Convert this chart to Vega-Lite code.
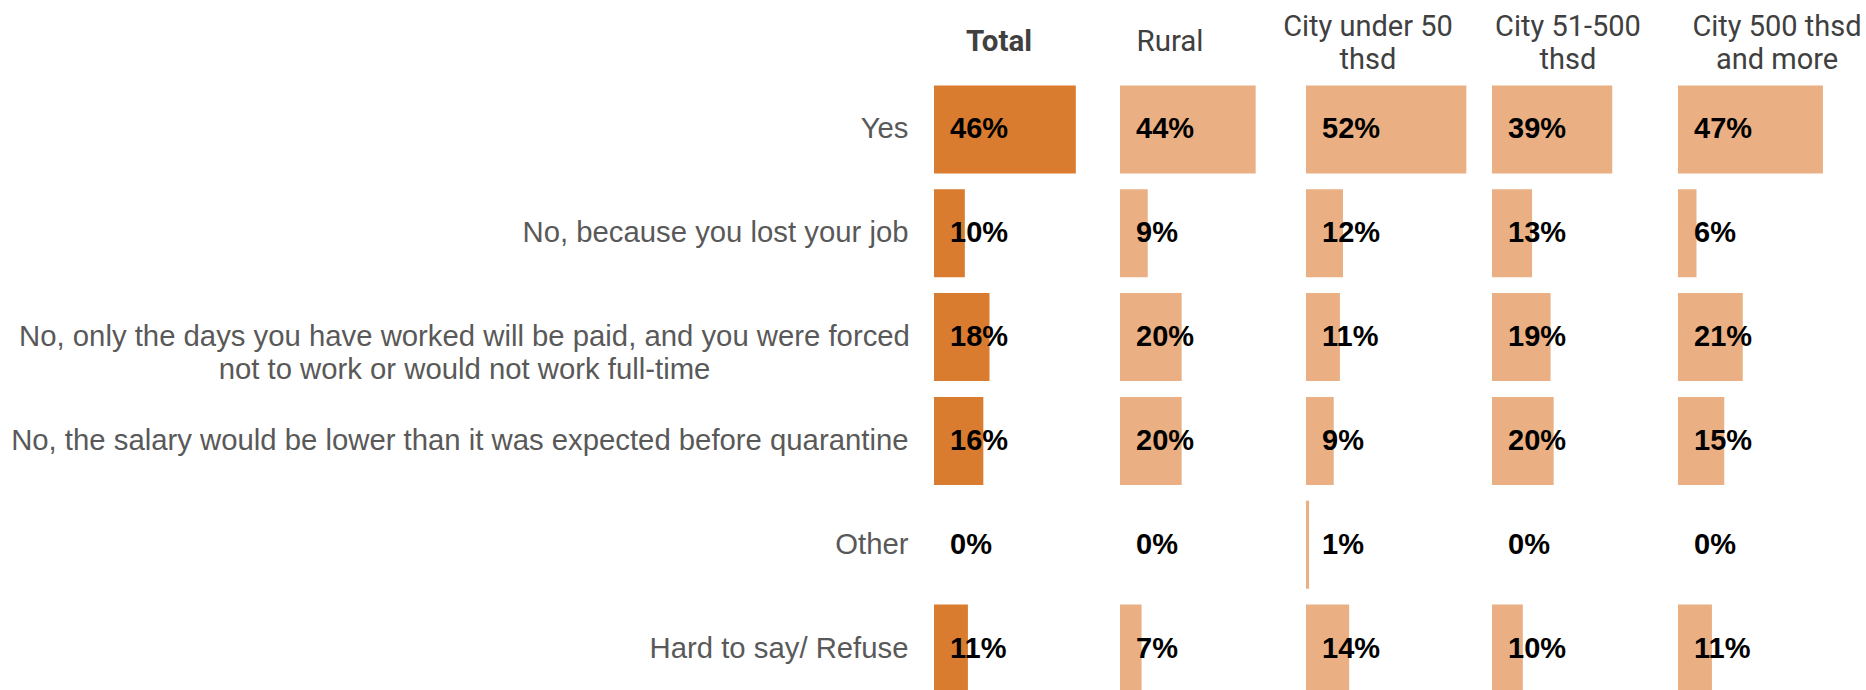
{
  "$schema": "https://vega.github.io/schema/vega-lite/v6.json",
  "padding": {"left": 10, "top": 12.5, "right": 0, "bottom": 0},
  "background": "white",
  "bounds": "flush",
  "config": {"view": {"stroke": null}, "concat": {"spacing": 1}},
  "datasets": {
    "d": [
      {"group": "Total", "answer": "Yes", "value": 0.46},
      {"group": "Total", "answer": "No, because you lost your job", "value": 0.10},
      {"group": "Total", "answer": "No, only the days you have worked will be paid, and you were forced not to work or would not work full-time", "value": 0.18},
      {"group": "Total", "answer": "No, the salary would be lower than it was expected before quarantine", "value": 0.16},
      {"group": "Total", "answer": "Other", "value": 0.0},
      {"group": "Total", "answer": "Hard to say/ Refuse", "value": 0.11},
      {"group": "Rural", "answer": "Yes", "value": 0.44},
      {"group": "Rural", "answer": "No, because you lost your job", "value": 0.09},
      {"group": "Rural", "answer": "No, only the days you have worked will be paid, and you were forced not to work or would not work full-time", "value": 0.20},
      {"group": "Rural", "answer": "No, the salary would be lower than it was expected before quarantine", "value": 0.20},
      {"group": "Rural", "answer": "Other", "value": 0.0},
      {"group": "Rural", "answer": "Hard to say/ Refuse", "value": 0.07},
      {"group": "City under 50 thsd", "answer": "Yes", "value": 0.52},
      {"group": "City under 50 thsd", "answer": "No, because you lost your job", "value": 0.12},
      {"group": "City under 50 thsd", "answer": "No, only the days you have worked will be paid, and you were forced not to work or would not work full-time", "value": 0.11},
      {"group": "City under 50 thsd", "answer": "No, the salary would be lower than it was expected before quarantine", "value": 0.09},
      {"group": "City under 50 thsd", "answer": "Other", "value": 0.01},
      {"group": "City under 50 thsd", "answer": "Hard to say/ Refuse", "value": 0.14},
      {"group": "City 51-500 thsd", "answer": "Yes", "value": 0.39},
      {"group": "City 51-500 thsd", "answer": "No, because you lost your job", "value": 0.13},
      {"group": "City 51-500 thsd", "answer": "No, only the days you have worked will be paid, and you were forced not to work or would not work full-time", "value": 0.19},
      {"group": "City 51-500 thsd", "answer": "No, the salary would be lower than it was expected before quarantine", "value": 0.20},
      {"group": "City 51-500 thsd", "answer": "Other", "value": 0.0},
      {"group": "City 51-500 thsd", "answer": "Hard to say/ Refuse", "value": 0.10},
      {"group": "City 500 thsd and more", "answer": "Yes", "value": 0.47},
      {"group": "City 500 thsd and more", "answer": "No, because you lost your job", "value": 0.06},
      {"group": "City 500 thsd and more", "answer": "No, only the days you have worked will be paid, and you were forced not to work or would not work full-time", "value": 0.21},
      {"group": "City 500 thsd and more", "answer": "No, the salary would be lower than it was expected before quarantine", "value": 0.15},
      {"group": "City 500 thsd and more", "answer": "Other", "value": 0.0},
      {"group": "City 500 thsd and more", "answer": "Hard to say/ Refuse", "value": 0.11}
    ]
  },
  "hconcat": [
    {
      "width": 185, "height": 623,
      "data": {"name": "d"},
      "transform": [{"filter": "datum.group == 'Total'"}],
      "title": {"text": "Total", "anchor": "start", "align": "center", "dx": 65, "font": "Roboto", "fontSize": 29.5, "fontWeight": "bold", "color": "#404040", "baseline": "middle", "offset": 6, "frame": "group", "lineHeight": 33},
      "encoding": {
        "y": {"field": "answer", "type": "nominal", "title": null,
          "sort": ["Yes", "No, because you lost your job", "No, only the days you have worked will be paid, and you were forced not to work or would not work full-time", "No, the salary would be lower than it was expected before quarantine", "Other", "Hard to say/ Refuse"],
          "scale": {"paddingInner": 0.152, "paddingOuter": 0.076},
          "axis": {"domain": false, "ticks": false, "tickSize": 0, "labelFont": "Liberation Sans", "labelFontSize": 29.3, "labelColor": "#595959", "labelLimit": 2000, "labelLineHeight": 33,
            "labelPadding": {"condition": {"test": "indexof(datum.value, 'forced') >= 0", "value": 470}, "value": 26},
            "labelAlign": {"condition": {"test": "indexof(datum.value, 'forced') >= 0", "value": "center"}, "value": "right"},
            "labelExpr": "indexof(datum.value, 'forced') >= 0 ? ['No, only the days you have worked will be paid, and you were forced', 'not to work or would not work full-time'] : datum.value"}
        }
      },
      "layer": [
        {"mark": {"type": "bar", "color": "#D97C30"},
         "encoding": {"x": {"field": "value", "type": "quantitative", "scale": {"domain": [0, 0.6], "nice": false}, "axis": null}}},
        {"mark": {"type": "text", "align": "left", "baseline": "middle", "dx": 16, "font": "Liberation Sans", "fontSize": 29, "fontWeight": "bold", "color": "#000000"},
         "encoding": {"x": {"datum": 0, "type": "quantitative"}, "text": {"field": "value", "type": "quantitative", "format": ".0%"}}}
      ]
    },
    {
      "width": 185, "height": 623,
      "data": {"name": "d"},
      "transform": [{"filter": "datum.group == 'Rural'"}],
      "title": {"text": "Rural", "anchor": "start", "align": "center", "dx": 50, "font": "Roboto", "fontSize": 29.5, "fontWeight": "normal", "color": "#404040", "baseline": "middle", "offset": 6, "frame": "group", "lineHeight": 33},
      "encoding": {
        "y": {"field": "answer", "type": "nominal", "title": null,
          "sort": ["Yes", "No, because you lost your job", "No, only the days you have worked will be paid, and you were forced not to work or would not work full-time", "No, the salary would be lower than it was expected before quarantine", "Other", "Hard to say/ Refuse"],
          "scale": {"paddingInner": 0.152, "paddingOuter": 0.076}, "axis": null}
      },
      "layer": [
        {"mark": {"type": "bar", "color": "#EAB084"},
         "encoding": {"x": {"field": "value", "type": "quantitative", "scale": {"domain": [0, 0.6], "nice": false}, "axis": null}}},
        {"mark": {"type": "text", "align": "left", "baseline": "middle", "dx": 16, "font": "Liberation Sans", "fontSize": 29, "fontWeight": "bold", "color": "#000000"},
         "encoding": {"x": {"datum": 0, "type": "quantitative"}, "text": {"field": "value", "type": "quantitative", "format": ".0%"}}}
      ]
    },
    {
      "width": 185, "height": 623,
      "data": {"name": "d"},
      "transform": [{"filter": "datum.group == 'City under 50 thsd'"}],
      "title": {"text": ["City under 50", "thsd"], "anchor": "start", "align": "center", "dx": 62, "font": "Roboto", "fontSize": 29, "fontWeight": "normal", "color": "#404040", "baseline": "middle", "offset": -11, "frame": "group", "lineHeight": 33},
      "encoding": {
        "y": {"field": "answer", "type": "nominal", "title": null,
          "sort": ["Yes", "No, because you lost your job", "No, only the days you have worked will be paid, and you were forced not to work or would not work full-time", "No, the salary would be lower than it was expected before quarantine", "Other", "Hard to say/ Refuse"],
          "scale": {"paddingInner": 0.152, "paddingOuter": 0.076}, "axis": null}
      },
      "layer": [
        {"mark": {"type": "bar", "color": "#EAB084"},
         "encoding": {"x": {"field": "value", "type": "quantitative", "scale": {"domain": [0, 0.6], "nice": false}, "axis": null}}},
        {"mark": {"type": "text", "align": "left", "baseline": "middle", "dx": 16, "font": "Liberation Sans", "fontSize": 29, "fontWeight": "bold", "color": "#000000"},
         "encoding": {"x": {"datum": 0, "type": "quantitative"}, "text": {"field": "value", "type": "quantitative", "format": ".0%"}}}
      ]
    },
    {
      "width": 185, "height": 623,
      "data": {"name": "d"},
      "transform": [{"filter": "datum.group == 'City 51-500 thsd'"}],
      "title": {"text": ["City 51-500", "thsd"], "anchor": "start", "align": "center", "dx": 76, "font": "Roboto", "fontSize": 29, "fontWeight": "normal", "color": "#404040", "baseline": "middle", "offset": -11, "frame": "group", "lineHeight": 33},
      "encoding": {
        "y": {"field": "answer", "type": "nominal", "title": null,
          "sort": ["Yes", "No, because you lost your job", "No, only the days you have worked will be paid, and you were forced not to work or would not work full-time", "No, the salary would be lower than it was expected before quarantine", "Other", "Hard to say/ Refuse"],
          "scale": {"paddingInner": 0.152, "paddingOuter": 0.076}, "axis": null}
      },
      "layer": [
        {"mark": {"type": "bar", "color": "#EAB084"},
         "encoding": {"x": {"field": "value", "type": "quantitative", "scale": {"domain": [0, 0.6], "nice": false}, "axis": null}}},
        {"mark": {"type": "text", "align": "left", "baseline": "middle", "dx": 16, "font": "Liberation Sans", "fontSize": 29, "fontWeight": "bold", "color": "#000000"},
         "encoding": {"x": {"datum": 0, "type": "quantitative"}, "text": {"field": "value", "type": "quantitative", "format": ".0%"}}}
      ]
    },
    {
      "width": 185, "height": 623,
      "data": {"name": "d"},
      "transform": [{"filter": "datum.group == 'City 500 thsd and more'"}],
      "title": {"text": ["City 500 thsd", "and more"], "anchor": "start", "align": "center", "dx": 99, "font": "Roboto", "fontSize": 29, "fontWeight": "normal", "color": "#404040", "baseline": "middle", "offset": -11, "frame": "group", "lineHeight": 33},
      "encoding": {
        "y": {"field": "answer", "type": "nominal", "title": null,
          "sort": ["Yes", "No, because you lost your job", "No, only the days you have worked will be paid, and you were forced not to work or would not work full-time", "No, the salary would be lower than it was expected before quarantine", "Other", "Hard to say/ Refuse"],
          "scale": {"paddingInner": 0.152, "paddingOuter": 0.076}, "axis": null}
      },
      "layer": [
        {"mark": {"type": "bar", "color": "#EAB084"},
         "encoding": {"x": {"field": "value", "type": "quantitative", "scale": {"domain": [0, 0.6], "nice": false}, "axis": null}}},
        {"mark": {"type": "text", "align": "left", "baseline": "middle", "dx": 16, "font": "Liberation Sans", "fontSize": 29, "fontWeight": "bold", "color": "#000000"},
         "encoding": {"x": {"datum": 0, "type": "quantitative"}, "text": {"field": "value", "type": "quantitative", "format": ".0%"}}}
      ]
    }
  ]
}
